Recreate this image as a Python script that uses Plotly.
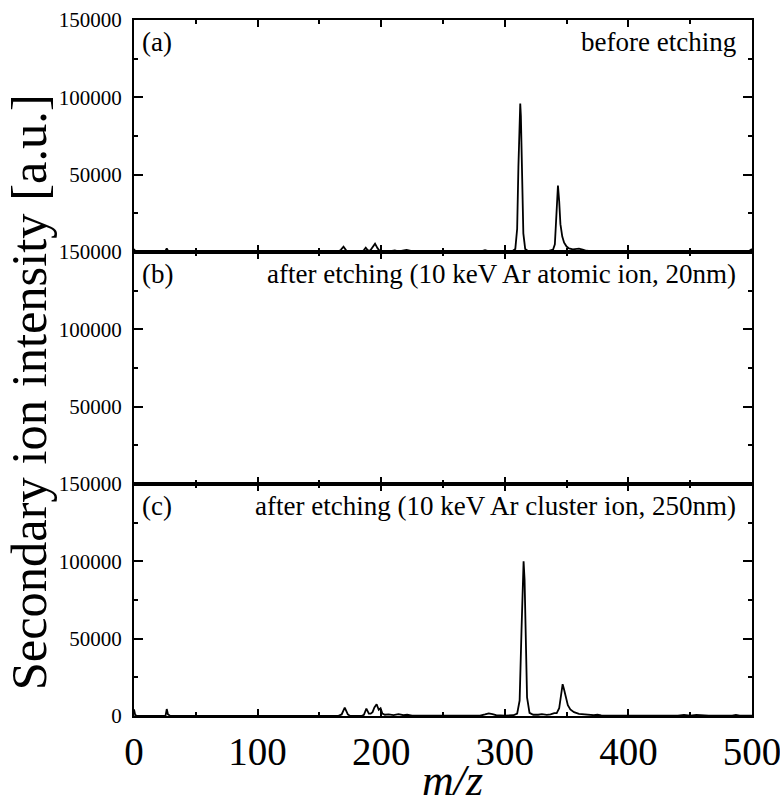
import plotly.graph_objects as go
from plotly.subplots import make_subplots

# ---- spectrum (a): before etching ----
mz_a = [0, 1, 3, 25, 26.5, 28, 35, 37, 39, 60, 165, 167.5, 169.5, 171.5, 173,
        184, 186, 187.5, 189, 191, 193, 195, 197, 199, 205, 208, 211, 214, 217,
        220.5, 224, 230, 280, 284, 288, 300, 306, 308.5, 310, 311, 312, 312.5,
        313, 314, 315, 316.5, 319, 325, 335, 339, 340.5, 341.5, 342.3, 343, 344,
        345, 346.5, 348, 350, 352, 355, 358, 360, 363, 366, 370, 380, 430, 434,
        438, 455, 458, 461, 480, 483, 486, 495, 498, 500]
int_a = [2000, 400, 0, 0, 2400, 0, 0, 600, 0, 0, 0, 1500, 3400, 1200, 0,
         0, 1200, 2800, 1200, 800, 3000, 5400, 2500, 500, 300, 700, 1000, 400, 900,
         1300, 700, 300, 200, 1200, 200, 200, 500, 2000, 15000, 55000, 92000, 96000,
         88000, 45000, 12000, 2000, 500, 400, 500, 1500, 5000, 20000, 38000, 43000, 33000,
         18000, 10000, 6000, 3500, 2300, 1700, 2000, 2200, 1500, 800, 500, 300, 200, 600,
         200, 200, 500, 200, 200, 500, 200, 300, 800, 2000]

# ---- spectrum (b): after 10 keV Ar atomic ion etching ----
mz_b = [0, 1, 3, 20, 40, 60, 80, 100, 150, 200, 300, 400, 500]
int_b = [800, 300, 200, 300, 200, 300, 200, 150, 100, 100, 100, 100, 100]

# ---- spectrum (c): after 10 keV Ar cluster ion etching ----
mz_c = [0, 1, 3, 25.5, 26.5, 27.5, 29, 33, 40, 50, 165, 168, 170.5, 173, 175,
        184, 186, 188, 190, 191.5, 193, 194.5, 196.3, 198, 199.5, 201, 203, 206,
        210, 214, 218, 221, 225, 230, 280, 284, 287, 290, 293, 300, 307, 310, 312,
        313.5, 314.5, 315.2, 316, 317, 318, 320, 323, 327, 330, 334, 337, 340, 342,
        344, 345.5, 346.8, 348, 349.5, 351, 353, 356, 360, 365, 372, 375, 378, 400,
        440, 445, 450, 455, 460, 465, 484, 487, 490, 500]
int_c = [4300, 500, 0, 0, 4500, 1000, 300, 0, 0, 0, 0, 1000, 5400, 1000, 0,
         0, 800, 4800, 1500, 1500, 2500, 5500, 7600, 4000, 5000, 1500, 800, 1000,
         600, 1200, 500, 800, 300, 200, 200, 1000, 1700, 1200, 500, 300, 500, 1500, 10000,
         55000, 90000, 100000, 88000, 45000, 12000, 2000, 800, 800, 1200, 700, 1000, 1800, 1800,
         5000, 14000, 20600, 17000, 11000, 7000, 4300, 2500, 1400, 900, 500, 800, 400, 200,
         200, 700, 300, 700, 300, 200, 200, 700, 200, 300]

panel_tags = ["(a)", "(b)", "(c)"]
panel_notes = ["before etching",
               "after etching (10 keV Ar atomic ion, 20nm)",
               "after etching (10 keV Ar cluster ion, 250nm)"]
x_ticks = [0, 100, 200, 300, 400, 500]
y_ticks = [0, 50000, 100000, 150000]

SERIF = "Liberation Serif, Times New Roman, serif"

fig = make_subplots(rows=3, cols=1, shared_xaxes=True, vertical_spacing=0)

for row, (mz, inten) in enumerate([(mz_a, int_a), (mz_b, int_b), (mz_c, int_c)], start=1):
    fig.add_trace(go.Scatter(x=mz, y=inten, mode="lines",
                             line=dict(color="black", width=1.8),
                             showlegend=False), row=row, col=1)

for row in (1, 2, 3):
    is_bottom = row == 3
    fig.update_xaxes(
        range=[0, 500], tickvals=x_ticks, automargin=False,
        showticklabels=is_bottom, ticklabeloverflow="allow",
        ticks="inside", ticklen=7, tickwidth=1.5, tickcolor="black",
        minor=dict(dtick=50, ticks="inside", ticklen=4, tickwidth=1.5, tickcolor="black"),
        showline=True, linecolor="black", linewidth=2, mirror="allticks",
        showgrid=False, zeroline=False,
        tickfont=dict(family=SERIF, size=39, color="black"),
        row=row, col=1)
    fig.update_yaxes(
        range=[0, 150000], tickvals=y_ticks, automargin=False,
        ticktext=[("0" if is_bottom else "")] + [str(v) for v in y_ticks[1:]],
        ticks="inside", ticklen=9, tickwidth=1.5, tickcolor="black",
        minor=dict(dtick=25000, ticks="inside", ticklen=4, tickwidth=1.5, tickcolor="black"),
        showline=True, linecolor="black", linewidth=2, mirror="allticks",
        showgrid=False, zeroline=False, ticklabelstandoff=6,
        tickfont=dict(family=SERIF, size=21, color="black"),
        row=row, col=1)

annotations = []
for i, (tag, note) in enumerate(zip(panel_tags, panel_notes)):
    yref = "y domain" if i == 0 else f"y{i + 1} domain"
    xref = "x domain" if i == 0 else f"x{i + 1} domain"
    annotations.append(dict(text=tag, xref=xref, yref=yref, x=0.01, y=0.905,
                            xanchor="left", yanchor="middle", showarrow=False,
                            font=dict(family=SERIF, size=27, color="black")))
    annotations.append(dict(text=note, xref=xref, yref=yref, x=0.977, y=0.905,
                            xanchor="right", yanchor="middle", showarrow=False,
                            font=dict(family=SERIF, size=27, color="black")))

annotations.append(dict(text="Secondary ion intensity [a.u.]", xref="paper", yref="paper",
                        x=-0.17, y=0.465, textangle=-90, showarrow=False,
                        xanchor="center", yanchor="middle",
                        font=dict(family=SERIF, size=50.5, color="black")))
annotations.append(dict(text="<i>m/z</i>", xref="paper", yref="paper",
                        x=0.516, y=-0.092, showarrow=False,
                        xanchor="center", yanchor="middle",
                        font=dict(family=SERIF, size=44, color="black")))

fig.update_layout(
    width=780, height=805,
    margin=dict(l=134, r=28, t=20, b=89),
    paper_bgcolor="white", plot_bgcolor="white",
    annotations=annotations,
)

fig.write_html("out.html")
